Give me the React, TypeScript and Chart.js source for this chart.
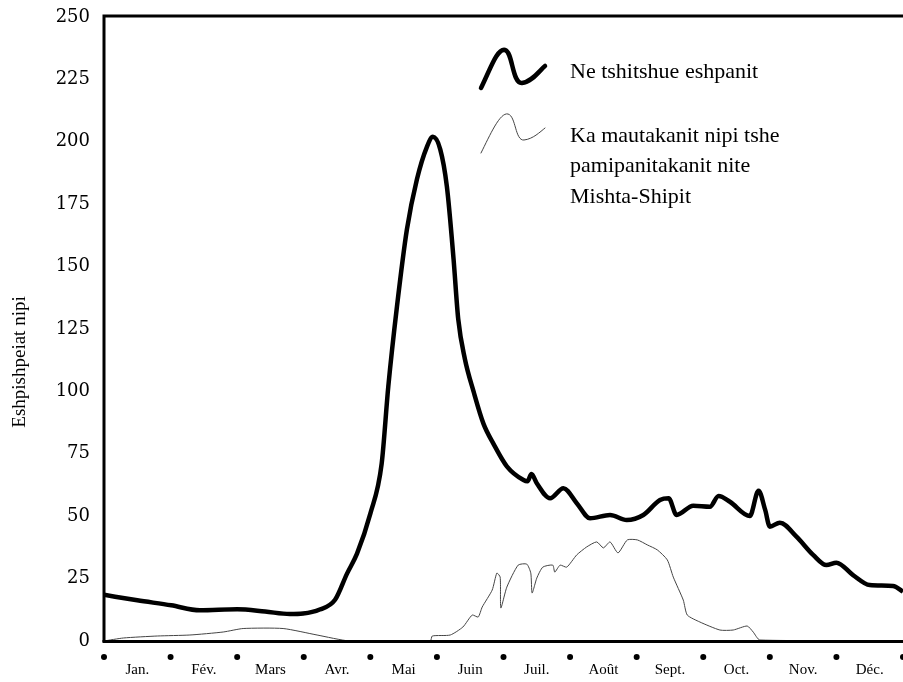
import React, { useEffect, useRef } from "react";
import { Chart, registerables } from "chart.js";

Chart.register(...registerables);

const MONTHS = ["Jan.", "Fév.", "Mars", "Avr.", "Mai", "Juin", "Juil.", "Août", "Sept.", "Oct.", "Nov.", "Déc."];
const Y_TICKS = [0, 25, 50, 75, 100, 125, 150, 175, 200, 225, 250];
const Y_TITLE = "Eshpishpeiat nipi";
const SERIES_NATURAL = "Ne tshitshue eshpanit";
const SERIES_DIVERTED = ["Ka mautakanit nipi tshe", "pamipanitakanit nite", "Mishta-Shipit"];

// month position (0 = 1 Jan, 12 = 31 Dec) and flow values
const NATURAL_X = [0, 0.5, 1.01, 1.44, 2.0, 2.42, 2.79, 2.99, 3.24, 3.47, 3.65, 3.8, 4.0, 4.17, 4.27, 4.4, 4.55, 4.7, 4.85, 4.94, 5.05, 5.15, 5.25, 5.32, 5.42, 5.55, 5.7, 5.85, 6.05, 6.3, 6.36, 6.42, 6.5, 6.7, 6.9, 7.1, 7.3, 7.6, 7.85, 8.1, 8.35, 8.48, 8.6, 8.85, 9.1, 9.23, 9.4, 9.7, 9.83, 9.93, 10.0, 10.15, 10.4, 10.65, 10.85, 11.0, 11.25, 11.5, 11.85, 12.0];
const NATURAL_Y = [18.5, 16.3, 14.3, 12.3, 12.7, 11.8, 10.8, 11.0, 12.6, 16.5, 27, 35, 51, 71, 102, 134, 165, 185, 198, 202, 197, 182, 153, 129, 113, 100, 87, 79, 70, 64.5, 64, 66.9, 63.2, 57.2, 61.2, 55.2, 49.2, 50.5, 48.5, 50.5, 56.5, 57.2, 50.5, 54.2, 53.8, 58.1, 55.8, 50.1, 60.2, 52.5, 45.8, 47.4, 41.8, 34.5, 30.4, 31.4, 26.4, 22.4, 22.0, 19.8];

const DIVERTED_X = [0, 0.29, 0.8, 1.29, 1.79, 2.09, 2.69, 3.2, 3.69, 4.9, 4.93, 5.2, 5.39, 5.53, 5.62, 5.68, 5.83, 5.9, 5.95, 5.96, 6.05, 6.22, 6.35, 6.41, 6.43, 6.5, 6.59, 6.74, 6.77, 6.85, 6.95, 7.1, 7.25, 7.4, 7.5, 7.6, 7.72, 7.86, 8.01, 8.16, 8.31, 8.46, 8.55, 8.7, 8.76, 8.95, 9.25, 9.45, 9.66, 9.75, 9.85, 12.0];
const DIVERTED_Y = [0, 1.2, 2.0, 2.4, 3.6, 5.0, 5.0, 2.4, 0, 0, 2.0, 2.4, 5.6, 10.4, 9.6, 13.6, 20.4, 27.2, 25.6, 13.2, 21.6, 30.4, 30.8, 27.2, 19.2, 25.2, 29.6, 30.4, 27.6, 30.4, 29.6, 34.5, 37.7, 39.7, 37.3, 39.7, 35.3, 40.5, 40.5, 38.5, 36.5, 32.5, 25.6, 16.4, 10.4, 7.6, 4.4, 4.4, 6.0, 3.6, 0.4, 0];

const SERIF = "'Liberation Serif', 'Times New Roman', serif";
const WIDE_SERIF = "'DejaVu Serif', 'Liberation Serif', serif";

const decorations = {
  id: "decorations",
  afterDraw(chart: any) {
    const { ctx, chartArea, scales } = chart;
    const xs = scales.x;
    ctx.save();
    // frame
    ctx.strokeStyle = "#000";
    ctx.lineWidth = 3;
    ctx.beginPath();
    ctx.moveTo(chartArea.left, chartArea.bottom + 1);
    ctx.lineTo(chartArea.left, chartArea.top - 1);
    ctx.lineTo(chartArea.right, chartArea.top - 1);
    ctx.stroke();
    ctx.beginPath();
    ctx.moveTo(chartArea.left - 1.5, chartArea.bottom + 0.5);
    ctx.lineTo(chartArea.right, chartArea.bottom + 0.5);
    ctx.stroke();
    // month bullets
    ctx.fillStyle = "#000";
    for (let i = 0; i <= 12; i++) {
      const x = xs.getPixelForValue(i);
      ctx.beginPath();
      ctx.arc(x, chartArea.bottom + 16, 3, 0, Math.PI * 2);
      ctx.fill();
    }
    // y title
    ctx.save();
    ctx.translate(20, 362);
    ctx.rotate(-Math.PI / 2);
    ctx.font = `19px ${SERIF}`;
    ctx.textAlign = "center";
    ctx.textBaseline = "middle";
    ctx.fillText(Y_TITLE, 0, 0);
    ctx.restore();
    // legend
    ctx.lineCap = "round";
    ctx.strokeStyle = "#000";
    ctx.lineWidth = 4.5;
    ctx.beginPath();
    ctx.moveTo(481, 88);
    ctx.bezierCurveTo(490, 70, 497, 48, 505, 50);
    ctx.bezierCurveTo(513, 52, 512, 84, 522, 83);
    ctx.bezierCurveTo(532, 82, 540, 70, 545, 66);
    ctx.stroke();
    ctx.lineWidth = 1;
    ctx.strokeStyle = "#444";
    ctx.beginPath();
    ctx.moveTo(481, 153);
    ctx.bezierCurveTo(490, 135, 500, 112, 508, 114);
    ctx.bezierCurveTo(516, 116, 515, 141, 524, 140);
    ctx.bezierCurveTo(533, 139, 540, 132, 545, 128);
    ctx.stroke();
    ctx.fillStyle = "#000";
    ctx.font = `22px ${SERIF}`;
    ctx.textAlign = "left";
    ctx.textBaseline = "middle";
    ctx.fillText(SERIES_NATURAL, 570, 72);
    SERIES_DIVERTED.forEach((t, i) => ctx.fillText(t, 570, 136 + i * 30.5));
    ctx.restore();
  },
};

export default function App() {
  const ref = useRef<HTMLCanvasElement | null>(null);
  useEffect(() => {
    if (!ref.current) return;
    const chart = new Chart(ref.current, {
      type: "line",
      data: {
        datasets: [
          {
            label: SERIES_NATURAL,
            data: NATURAL_X.map((x, i) => ({ x, y: NATURAL_Y[i] })),
            borderColor: "#000",
            borderWidth: 4.5,
            pointRadius: 0,
            cubicInterpolationMode: "monotone",
            fill: false,
          },
          {
            label: SERIES_DIVERTED.join(" "),
            data: DIVERTED_X.map((x, i) => ({ x, y: DIVERTED_Y[i] })),
            borderColor: "#444",
            borderWidth: 1,
            pointRadius: 0,
            tension: 0.2,
            fill: false,
          },
        ],
      },
      options: {
        animation: false,
        responsive: true,
        maintainAspectRatio: false,
        layout: { padding: { top: 17, left: 0, right: 0, bottom: 0 } },
        plugins: { legend: { display: false }, tooltip: { enabled: false } },
        scales: {
          x: {
            type: "linear",
            min: 0,
            max: 12,
            afterFit: (s: any) => { s.height = 41; s.paddingLeft = 0; s.paddingRight = 0; },
            afterBuildTicks: (s: any) => { s.ticks = MONTHS.map((_, i) => ({ value: i + 0.5 })); },
            grid: { display: false, drawTicks: false },
            border: { display: false },
            ticks: {
              autoSkip: false,
              maxRotation: 0,
              padding: 20,
              color: "#000",
              font: { family: SERIF, size: 15 },
              callback: (v: any) => MONTHS[Math.floor(Number(v))],
            },
          },
          y: {
            min: 0,
            max: 250,
            afterFit: (s: any) => { s.width = 104; s.paddingTop = 0; s.paddingBottom = 0; },
            afterBuildTicks: (s: any) => { s.ticks = Y_TICKS.map((v) => ({ value: v })); },
            grid: { display: false, drawTicks: false },
            border: { display: false },
            ticks: {
              padding: 14,
              color: "#000",
              font: { family: WIDE_SERIF, size: 18 },
            },
          },
        },
      },
      plugins: [decorations],
    });
    return () => chart.destroy();
  }, []);
  return (
    <div style={{ position: "fixed", left: 0, top: 0, width: 903, height: 682, background: "#fff" }}>
      <canvas ref={ref} />
    </div>
  );
}
